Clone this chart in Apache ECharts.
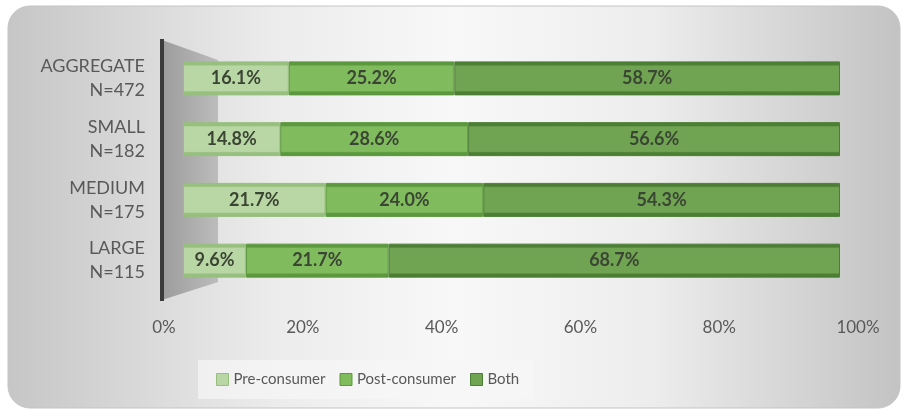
<!DOCTYPE html>
<html>
<head>
<meta charset="utf-8">
<script src="https://cdn.jsdelivr.net/npm/echarts@6/dist/echarts.min.js"></script>
<style>
  html, body { margin: 0; padding: 0; background: #fff; }
  #chart { width: 909px; height: 414px; }
</style>
</head>
<body>
<div id="chart"></div>
<script>
var categories = ['AGGREGATE', 'SMALL', 'MEDIUM', 'LARGE'];
var counts = [472, 182, 175, 115];
var preConsumer = [16.1, 14.8, 21.7, 9.6];
var postConsumer = [25.2, 28.6, 24.0, 21.7];
var both = [58.7, 56.6, 54.3, 68.7];
var seriesNames = ['Pre-consumer', 'Post-consumer', 'Both'];
var tickValues = [0, 20, 40, 60, 80, 100];

var faces = ['#b9d7a4', '#80bc5e', '#70a452'];
var edges = ['#97bf7e', '#5c983d', '#4c7f34'];
var font = 'Lato, "Open Sans", sans-serif';

function barFill(face, edge) {
    return new echarts.graphic.LinearGradient(0, 0, 0, 1, [
        { offset: 0, color: edge },
        { offset: 0.1, color: edge },
        { offset: 0.14, color: face },
        { offset: 0.86, color: face },
        { offset: 0.9, color: edge },
        { offset: 1, color: edge }
    ]);
}

function makeSeries(i, values) {
    return {
        name: seriesNames[i],
        type: 'bar',
        stack: 'total',
        barWidth: 34,
        xAxisIndex: 0,
        yAxisIndex: 0,
        z: 3,
        data: values,
        itemStyle: {
            color: barFill(faces[i], edges[i]),
            borderColor: edges[i],
            borderWidth: 1
        },
        label: {
            show: true,
            position: 'inside',
            color: '#3b4534',
            fontFamily: font,
            fontWeight: 'bold',
            fontSize: 18,
            formatter: function (p) { return p.value.toFixed(1) + '%'; }
        }
    };
}

var myChart = echarts.init(document.getElementById('chart'));
myChart.setOption({
    animation: false,
    backgroundColor: '#ffffff',
    graphic: [
        {
            type: 'rect', z: -10,
            shape: { x: 8, y: 6, width: 892, height: 402, r: 22 },
            style: {
                fill: new echarts.graphic.LinearGradient(0, 0, 1, 0, [
                    { offset: 0, color: '#c6c6c6' },
                    { offset: 0.3, color: '#ececec' },
                    { offset: 0.5, color: '#f8f8f8' },
                    { offset: 0.72, color: '#ededed' },
                    { offset: 1, color: '#c3c3c3' }
                ]),
                stroke: '#c4c4c4',
                lineWidth: 1
            }
        },
        {
            type: 'polygon', z: -5,
            shape: { points: [[162, 40], [218, 60], [218, 282], [162, 300]] },
            style: {
                fill: new echarts.graphic.LinearGradient(0, 0, 1, 0, [
                    { offset: 0, color: '#9c9c9c' },
                    { offset: 1, color: '#bcbcbc' }
                ])
            }
        },
        {
            type: 'line', z: -4,
            shape: { x1: 162, y1: 39, x2: 162, y2: 301 },
            style: { stroke: '#3c3c3c', lineWidth: 4 }
        }
    ],
    legend: {
        left: 198,
        top: 360,
        padding: [12, 14, 12, 18],
        itemGap: 14,
        itemWidth: 12,
        itemHeight: 12,
        icon: 'rect',
        backgroundColor: 'rgba(246,246,246,0.7)',
        textStyle: { color: '#595959', fontFamily: font, fontSize: 15 },
        data: seriesNames.map(function (n, i) {
            return { name: n, itemStyle: { color: faces[i], borderColor: edges[i], borderWidth: 1 } };
        })
    },
    grid: [
        { left: 183, right: 69, top: 48, height: 243 },
        { left: 164, right: 51, top: 300, height: 10 }
    ],
    xAxis: [
        { type: 'value', gridIndex: 0, min: 0, max: 100, show: false },
        {
            type: 'value', gridIndex: 1, min: 0, max: 100, interval: 20,
            axisLine: { show: false },
            axisTick: { show: false },
            splitLine: { show: false },
            axisLabel: {
                margin: 9,
                color: '#595959',
                fontFamily: font,
                fontSize: 17,
                formatter: function (v) { return tickValues.indexOf(v) >= 0 ? v + '%' : ''; }
            }
        }
    ],
    yAxis: [
        {
            type: 'category', gridIndex: 0, inverse: true,
            data: categories.map(function (c, i) { return c + '\nN=' + counts[i]; }),
            axisLine: { show: false },
            axisTick: { show: false },
            axisLabel: {
                margin: 38,
                color: '#595959',
                fontFamily: font,
                fontSize: 18,
                lineHeight: 24,
                padding: [0, 0, 6, 0],
                align: 'right'
            }
        },
        { type: 'value', gridIndex: 1, show: false }
    ],
    series: [
        makeSeries(0, preConsumer),
        makeSeries(1, postConsumer),
        makeSeries(2, both)
    ]
});
</script>
</body>
</html>
